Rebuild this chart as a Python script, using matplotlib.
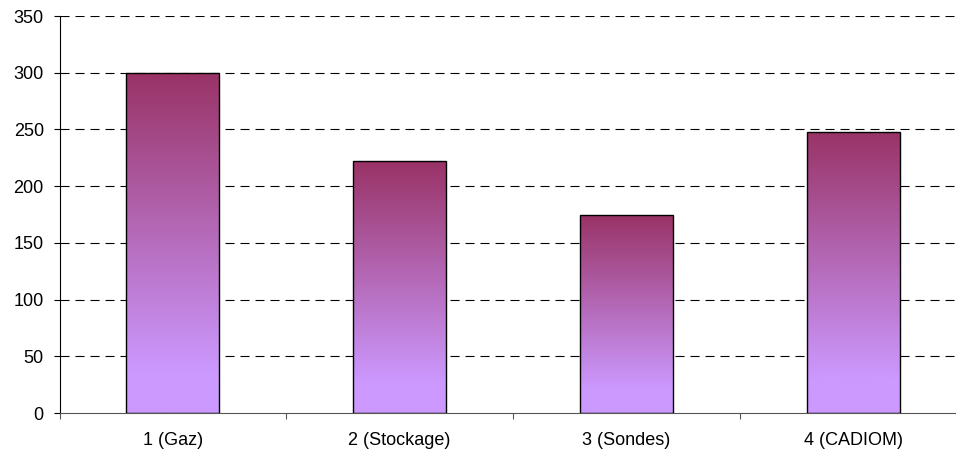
import numpy as np
import matplotlib
matplotlib.use("Agg")
import matplotlib.pyplot as plt
from matplotlib.colors import LinearSegmentedColormap

categories = ["1 (Gaz)", "2 (Stockage)", "3 (Sondes)", "4 (CADIOM)"]
values = [300, 222, 175, 248]
yticks = [0, 50, 100, 150, 200, 250, 300, 350]

plt.rcParams['font.family'] = ['Liberation Sans', 'DejaVu Sans']
plt.rcParams['lines.scale_dashes'] = False

W, H = 956, 458
fig = plt.figure(figsize=(W / 100, H / 100), dpi=100)
left, right, bottom, top = 59.5, 966.5, 413, 16
ax = fig.add_axes([left / W, (H - bottom) / H, (right - left) / W, (bottom - top) / H])

n = len(categories)
x = np.arange(n)
bw = 0.41

cmap = LinearSegmentedColormap.from_list(
    "g", [(0.0, "#CC99FF"), (0.12, "#CC99FF"), (1.0, "#993366")])
grad = np.linspace(0, 1, 256).reshape(-1, 1)

bars = ax.bar(x, values, width=bw, facecolor="none", edgecolor="black", linewidth=1.0, zorder=3)
for b in bars:
    x0, y0 = b.get_x(), b.get_y()
    w, h = b.get_width(), b.get_height()
    im = ax.imshow(grad, cmap=cmap, origin="lower", aspect="auto",
                   extent=[x0, x0 + w, y0, y0 + h], zorder=2, interpolation="bilinear")
    im.set_clip_path(b)

ax.set_xlim(-0.5, n - 0.5)
ax.set_ylim(0, 350)

for yv in yticks[1:]:
    ax.axhline(yv, color="black", linewidth=0.8, dashes=(6.5, 4.3), zorder=1)

ax.set_yticks(yticks)
ax.set_yticklabels([str(v) for v in yticks])
ax.set_xticks(np.arange(n + 1) - 0.5)
ax.set_xticklabels([])
ax.set_xticks(x, minor=True)
ax.set_xticklabels(categories, minor=True)
ax.tick_params(axis="x", which="major", direction="out", length=4.3, width=0.8, color="#555555")
ax.tick_params(axis="x", which="minor", length=0, pad=14, labelsize=13)
ax.tick_params(axis="y", direction="out", length=4.3, width=0.8, pad=7, labelsize=13, color="black")

for s in ["top", "right"]:
    ax.spines[s].set_visible(False)
ax.spines["left"].set_color("black")
ax.spines["left"].set_linewidth(0.8)
ax.spines["bottom"].set_color("#555555")
ax.spines["bottom"].set_linewidth(0.8)

fig.savefig("out.png", dpi=100)
